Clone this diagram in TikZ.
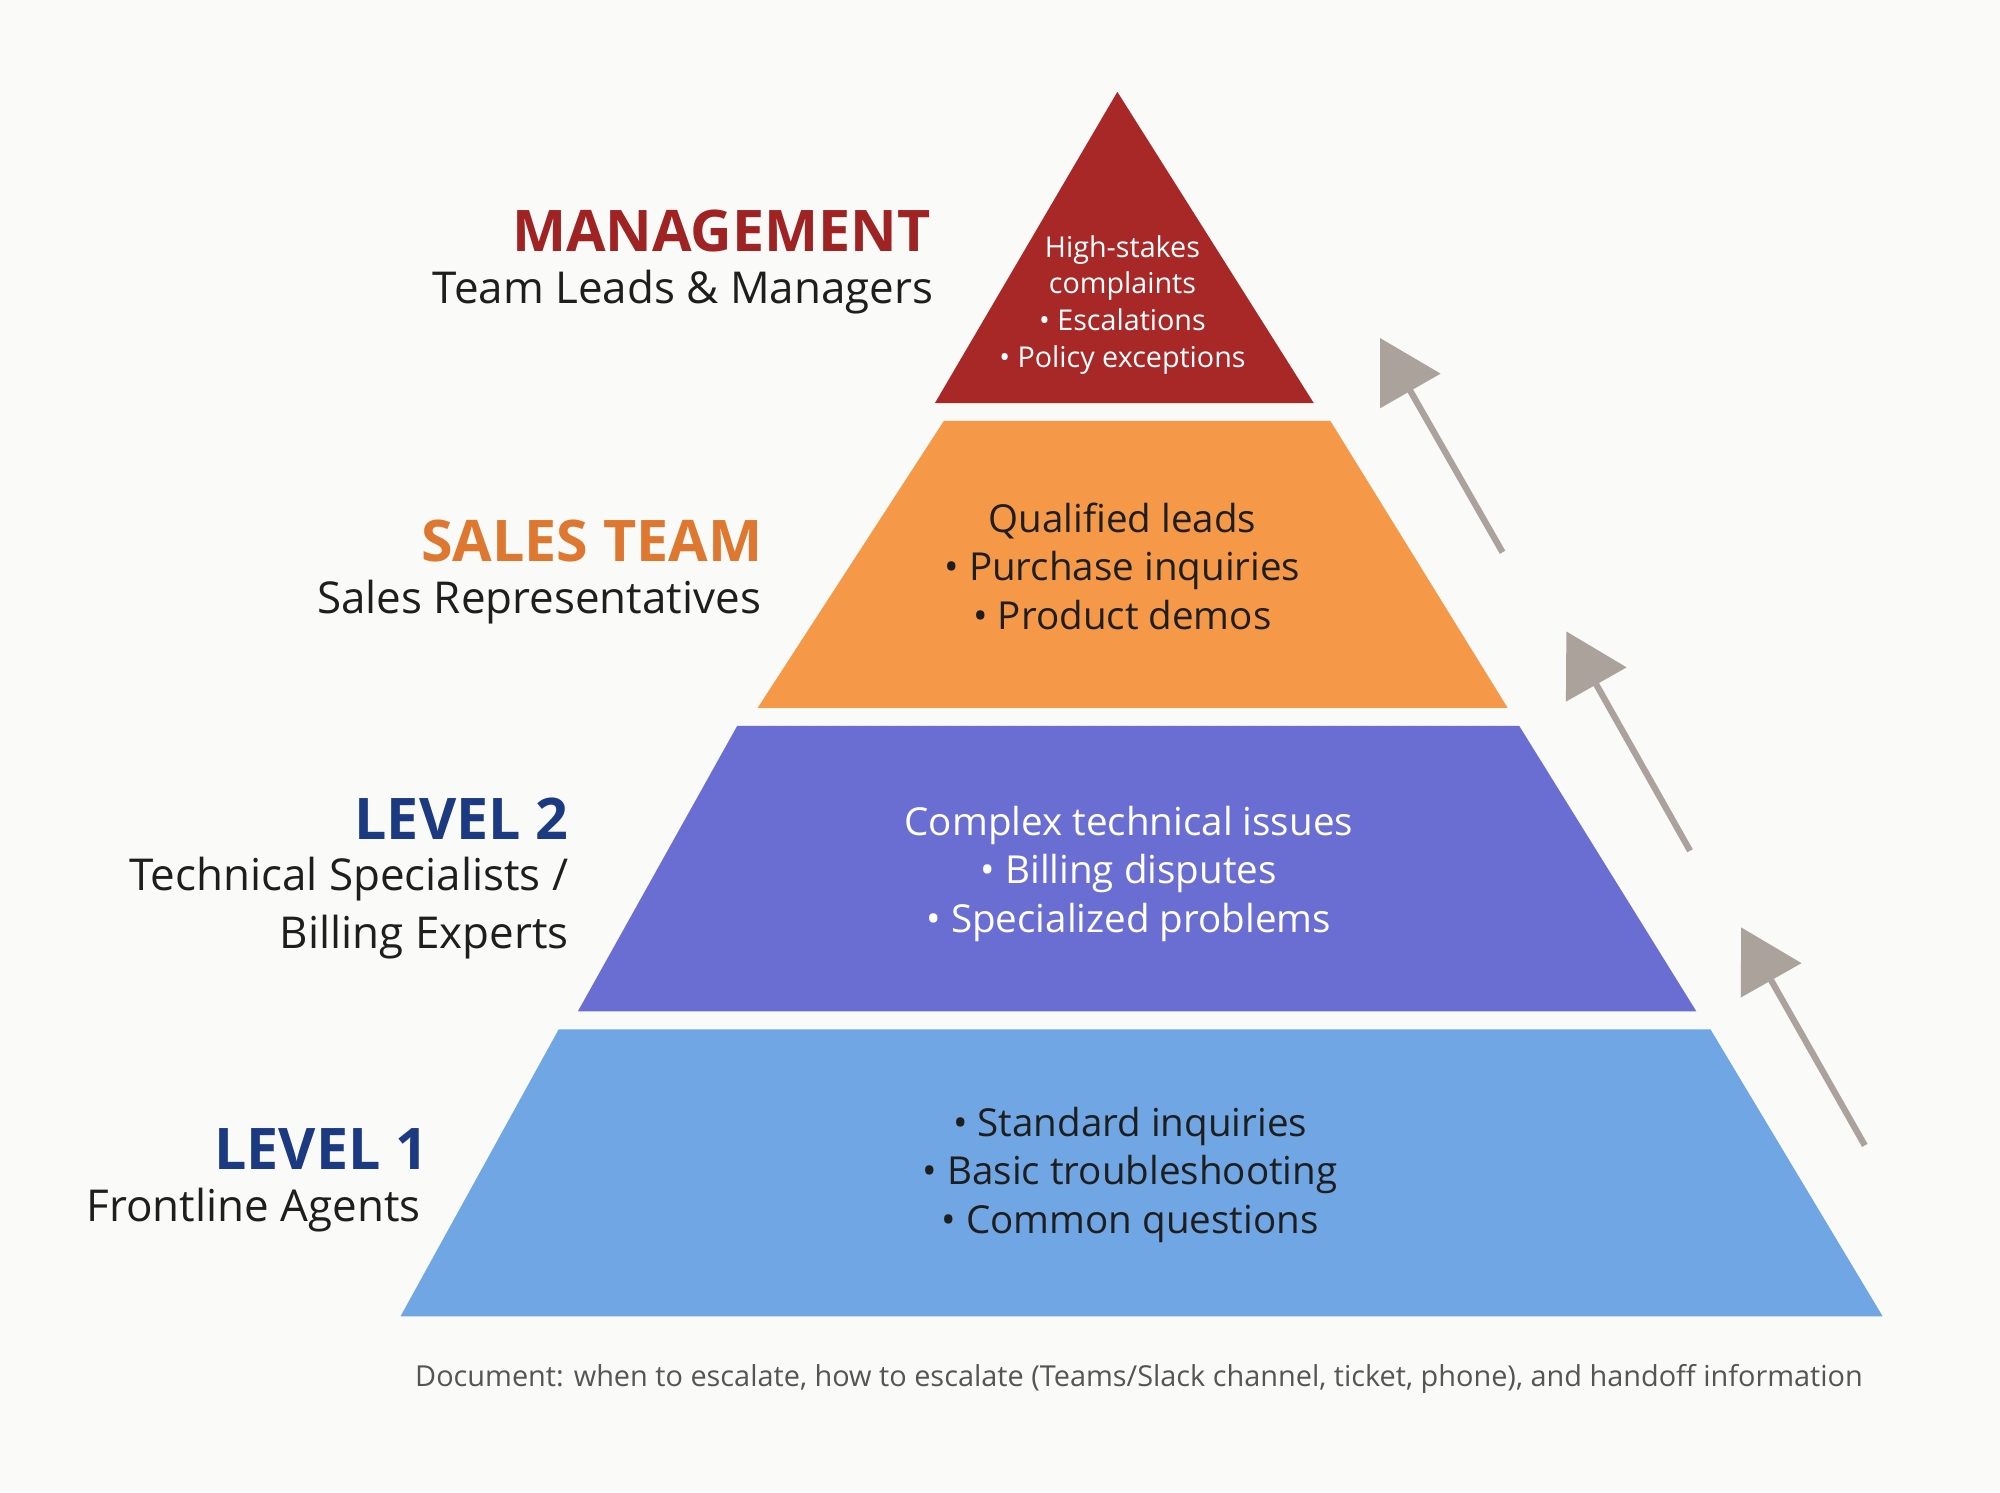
\documentclass[tikz,border=0pt]{standalone}
\usepackage{fontspec}
\setmainfont{Open Sans}
\usetikzlibrary{arrows.meta}
\definecolor{cbg}{RGB}{250,250,248}
\definecolor{cred}{RGB}{168,40,40}
\definecolor{corange}{RGB}{245,152,72}
\definecolor{cpurple}{RGB}{106,110,210}
\definecolor{cblue}{RGB}{112,166,228}
\definecolor{tred}{RGB}{160,35,35}
\definecolor{torange}{RGB}{222,120,48}
\definecolor{tnavy}{RGB}{28,58,130}
\definecolor{carrow}{RGB}{172,162,156}
\definecolor{ctext}{RGB}{30,30,30}
\definecolor{cfoot}{RGB}{85,85,85}
\tikzset{
 ttl/.style={anchor=east,font=\fontsize{32}{36}\selectfont\bfseries,inner sep=0},
 sub/.style={anchor=east,align=right,font=\fontsize{24.5}{32}\selectfont,text=ctext,inner sep=0},
 body/.style={align=center,font=\fontsize{21.5}{27}\selectfont,inner sep=0},
 esc/.style={draw=carrow,line width=3.5pt,-{Triangle[width=38pt,length=34pt]},color=carrow},
}
\begin{document}
\begin{tikzpicture}[x=0.25mm,y=-0.25mm]
\fill[cbg] (0,0) rectangle (1568,1170);
\useasboundingbox (0,0) rectangle (1568,1170);
% layers
\fill[cred] (876,72) -- (1030,316) -- (733,316) -- cycle;
\fill[corange] (740,330) -- (1043,330) -- (1182,555) -- (594,555) -- cycle;
\fill[cpurple] (578,569) -- (1191,569) -- (1330,793) -- (453,793) -- cycle;
\fill[cblue] (438,807) -- (1341,807) -- (1476,1032) -- (314,1032) -- cycle;
% body texts
\node[body,text=white,font=\fontsize{16}{20.5}\selectfont] (b4) at (880,239) {High-stakes\\complaints\\• Escalations\\• Policy exceptions};
\node[body,text=ctext] (b3) at (880,444) {Qualified leads\\• Purchase inquiries\\• Product demos};
\node[body,text=white] (b2) at (885,685) {Complex technical issues\\• Billing disputes\\• Specialized problems};
\node[body,text=ctext] (b1) at (886,921) {• Standard inquiries\\• Basic troubleshooting\\• Common questions};
% labels
\node[ttl,text=tred] (t4) at (730,181) {MANAGEMENT};
\node[sub] (s4) at (732,229) {Team Leads \& Managers};
\node[ttl,text=torange] (t3) at (598,424) {SALES TEAM};
\node[sub] (s3) at (597,472) {Sales Representatives};
\node[ttl,text=tnavy] (t2) at (446,642) {LEVEL 2};
\node[sub] (s2) at (446,712) {Technical Specialists /\\Billing Experts};
\node[ttl,text=tnavy] (t1) at (336,901) {LEVEL 1};
\node[sub] (s1) at (330,949) {Frontline Agents};
% arrows
\coordinate (a1s) at (1462,898); \coordinate (a1e) at (1365,727);
\coordinate (a2s) at (1325,667); \coordinate (a2e) at (1228,495);
\coordinate (a3s) at (1178,433); \coordinate (a3e) at (1082,265);
\draw[esc] (a1s) -- (a1e);
\draw[esc] (a2s) -- (a2e);
\draw[esc] (a3s) -- (a3e);
% footer
\node[font=\fontsize{16.1}{19}\selectfont,text=cfoot,inner sep=0] (foot) at (893,1081) {Document: when to escalate, how to escalate (Teams/Slack channel, ticket, phone), and handoff information};
\end{tikzpicture}
\end{document}
